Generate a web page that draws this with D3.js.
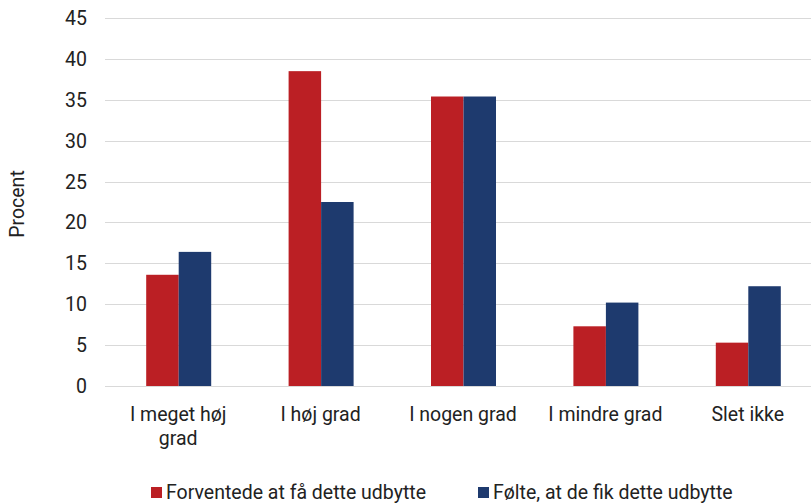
<!DOCTYPE html>
<html>
<head>
<meta charset="utf-8">
<script src="https://cdn.jsdelivr.net/npm/d3@7"></script>
<style>
  body { margin: 0; background: #fff; }
  svg text { font-family: Roboto, "DejaVu Sans Condensed", sans-serif; fill: #222; }
</style>
</head>
<body>
<svg id="chart" width="811" height="503"></svg>
<script>
const categories = ['I meget høj grad', 'I høj grad', 'I nogen grad', 'I mindre grad', 'Slet ikke'];
const expected = [13.6, 38.5, 35.4, 7.3, 5.3];
const felt = [16.4, 22.5, 35.4, 10.2, 12.2];
const seriesNames = ['Forventede at få dette udbytte', 'Følte, at de fik dette udbytte'];
const colors = ['#bb1f24', '#1e3a6e'];
const yTicks = [0, 5, 10, 15, 20, 25, 30, 35, 40, 45];

const width = 811;
const fontSize = 19.5;
const svg = d3.select('#chart');

// plot area runs a bit past the right edge, as in the original
const x = d3.scaleBand().domain(categories).range([107, 819]);
const x1 = d3.scaleBand().domain([0, 1]).range([x.bandwidth() / 2 - 32, x.bandwidth() / 2 + 33]);
const y = d3.scaleLinear().domain([0, 45]).range([386, 18]);

// gridlines
svg.append('g')
  .selectAll('line')
  .data(yTicks)
  .join('line')
  .attr('x1', 105)
  .attr('x2', width)
  .attr('y1', d => Math.round(y(d)) + 0.5)
  .attr('y2', d => Math.round(y(d)) + 0.5)
  .attr('stroke', '#d9d9d9')
  .attr('stroke-width', 1.2);

// y axis labels
svg.append('g')
  .selectAll('text')
  .data(yTicks)
  .join('text')
  .attr('x', 87)
  .attr('y', d => y(d))
  .attr('dy', '0.36em')
  .attr('text-anchor', 'end')
  .attr('font-size', fontSize)
  .text(d => d);

svg.append('text')
  .attr('transform', `translate(24,${y(22.5) + 2}) rotate(-90)`)
  .attr('text-anchor', 'middle')
  .attr('font-size', fontSize)
  .text('Procent');

// bars
const series = [expected, felt];
series.forEach((vals, s) => {
  svg.append('g')
    .selectAll('rect')
    .data(vals)
    .join('rect')
    .attr('x', (d, i) => x(categories[i]) + x1(s))
    .attr('width', x1.bandwidth())
    .attr('y', d => y(d))
    .attr('height', d => y(0) - y(d))
    .attr('fill', colors[s]);
});

// category labels (first one wraps)
const catLabels = svg.append('g')
  .selectAll('text')
  .data(categories)
  .join('text')
  .attr('x', d => x(d) + x.bandwidth() / 2)
  .attr('y', 421)
  .attr('text-anchor', 'middle')
  .attr('font-size', fontSize);

catLabels.each(function(d) {
  const lines = d === 'I meget høj grad' ? ['I meget høj', 'grad'] : [d];
  d3.select(this).selectAll('tspan')
    .data(lines)
    .join('tspan')
    .attr('x', x(d) + x.bandwidth() / 2)
    .attr('dy', (l, i) => i === 0 ? 0 : 24)
    .text(l => l);
});

// legend
const legendX = [151, 478];
const legend = svg.append('g')
  .selectAll('g')
  .data(seriesNames)
  .join('g')
  .attr('transform', (d, i) => `translate(${legendX[i]},487)`);

legend.append('rect')
  .attr('width', 11)
  .attr('height', 11)
  .attr('fill', (d, i) => colors[i]);

legend.append('text')
  .attr('x', 15)
  .attr('y', 12)
  .attr('font-size', fontSize)
  .text(d => d);
</script>
</body>
</html>
